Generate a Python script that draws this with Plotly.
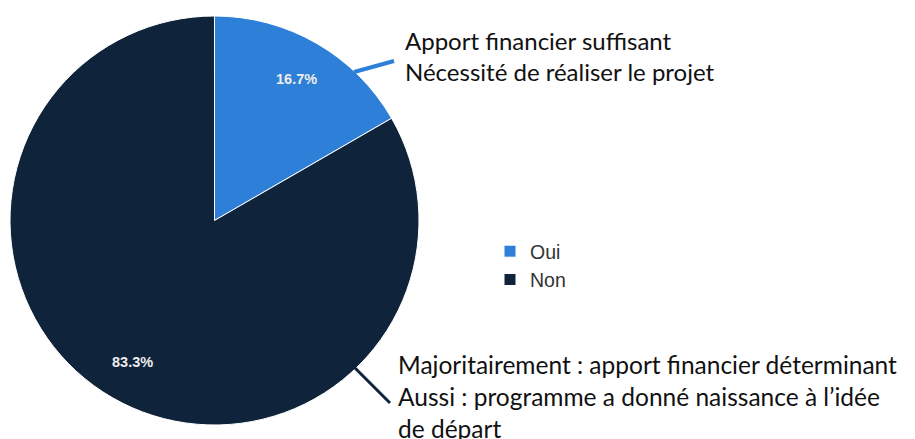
import math
import plotly.graph_objects as go

W, H = 915, 439

categories = ["Oui", "Non"]
counts = [1, 5]
colors = ["#2E7FD8", "#0F233A"]
note_oui = ["Apport financier suffisant", "Nécessité de réaliser le projet"]
note_non = ["Majoritairement : apport financier déterminant",
            "Aussi : programme a donné naissance à l’idée",
            "de départ"]


def px(x):
    return x / W


def py(y):
    return 1 - y / H


# pie geometry (pixels)
PIE_L, PIE_R, PIE_T, PIE_B = 10, 419, 16, 425
cx, cy = (PIE_L + PIE_R) / 2, (PIE_T + PIE_B) / 2
rad = (PIE_R - PIE_L) / 2

fig = go.Figure()
fig.add_trace(go.Pie(
    labels=categories,
    values=counts,
    sort=False,
    direction="clockwise",
    rotation=0,
    marker=dict(colors=colors, line=dict(color="white", width=1)),
    textinfo="none",
    domain=dict(x=[px(PIE_L), px(PIE_R)], y=[py(PIE_B), py(PIE_T)]),
    hoverinfo="label+percent",
))

# percentage labels placed at slice mid-angles
total = sum(counts)
cum = 0
for v in counts:
    theta = 2 * math.pi * (cum + v / 2) / total
    cum += v
    lx = cx + 0.8 * rad * math.sin(theta)
    ly = cy - 0.8 * rad * math.cos(theta)
    fig.add_annotation(
        x=px(lx), y=py(ly), xref="paper", yref="paper",
        xanchor="center", yanchor="middle", showarrow=False,
        text=f"{100 * v / total:.1f}%",
        font=dict(family="Liberation Sans, Arial, sans-serif", size=14.5,
                  color="#EDEDED", weight="bold"),
    )

fig.add_annotation(
    x=px(403), y=py(56), xref="paper", yref="paper",
    xanchor="left", yanchor="middle", align="left",
    text="<br>".join(note_oui), showarrow=False,
    font=dict(family="Lato, sans-serif", size=24, color="#111111"),
)
fig.add_annotation(
    x=px(396), y=py(396), xref="paper", yref="paper",
    xanchor="left", yanchor="middle", align="left",
    text="<br>".join(note_non), showarrow=False,
    font=dict(family="Lato, sans-serif", size=24.5, color="#111111"),
)

fig.add_shape(type="line", xref="paper", yref="paper",
              x0=px(354), y0=py(72), x1=px(394), y1=py(61),
              line=dict(color=colors[0], width=4))
fig.add_shape(type="line", xref="paper", yref="paper",
              x0=px(352), y0=py(365), x1=px(390), y1=py(403),
              line=dict(color=colors[1], width=3))

fig.update_layout(
    width=W, height=H,
    margin=dict(l=0, r=0, t=0, b=0),
    paper_bgcolor="white",
    plot_bgcolor="white",
    showlegend=True,
    legend=dict(
        x=px(490), y=py(232), xanchor="left", yanchor="top",
        font=dict(family="Liberation Sans, Arial, sans-serif", size=19.5, color="#333333"),
        bgcolor="rgba(0,0,0,0)",
    ),
)

fig.write_html("out.html", config={"displayModeBar": False},
               post_script="document.body.style.margin='0';")
